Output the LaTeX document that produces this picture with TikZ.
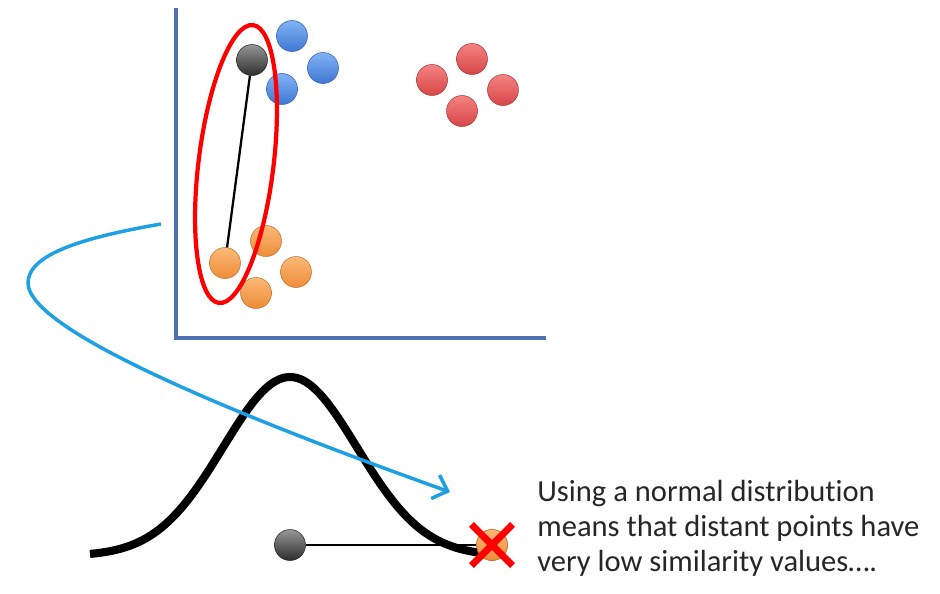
\documentclass[tikz,border=0pt]{standalone}
\usepackage{fontspec}
\setmainfont{Carlito}[Ligatures=NoCommon]
\usepackage{tikz}
\usetikzlibrary{shapes.geometric, shapes.misc, arrows.meta}
\definecolor{axisblue}{RGB}{79,112,178}
\definecolor{curveblue}{RGB}{30,160,226}
\definecolor{ptblueA}{RGB}{130,178,245}
\definecolor{ptblueB}{RGB}{62,120,212}
\definecolor{ptredA}{RGB}{245,130,130}
\definecolor{ptredB}{RGB}{214,70,70}
\definecolor{ptorA}{RGB}{252,185,120}
\definecolor{ptorB}{RGB}{238,140,55}
\definecolor{ptgrA}{RGB}{150,150,150}
\definecolor{ptgrB}{RGB}{45,45,45}
\definecolor{notegray}{RGB}{38,38,38}

\begin{document}
\begin{tikzpicture}[
  x=0.02cm, y=-0.02cm,
  pt/.style={circle, inner sep=0pt, minimum size=0.62cm, draw=#1B!80!black, line width=0.3pt, top color=#1A, bottom color=#1B},
  axis/.style={axisblue, line width=2pt},
  ring/.style={ellipse, draw=red, line width=2.4pt, inner sep=0pt, minimum width=5.6cm, minimum height=1.5cm},
  link/.style={black, line width=1.3pt},
  bell/.style={black, line width=4.6pt},
  flow/.style={curveblue, line width=2pt, -{Straight Barb[length=2.6mm, width=5mm]}},
  xmark/.style={cross out, draw=red, line width=4pt, inner sep=0pt, minimum size=0.68cm},
  note/.style={align=left, inner sep=0pt, text=notegray, font=\fontsize{17.4}{19.8}\selectfont},
]
\useasboundingbox (0,0) rectangle (940,593);

% Axes
\coordinate (top) at (176,8);
\coordinate (org) at (176,338);
\coordinate (rgt) at (546,338);
\draw[axis] (top) -- (org) -- (rgt);

% Selected point and its neighbour far down
\node[pt=ptgr] (blk) at (252,60) {};
\node[pt=ptor] (or1) at (225,263) {};
\draw[link] (blk) -- (or1);

% Blue cluster
\node[pt=ptblue] (bl1) at (292,36) {};
\node[pt=ptblue] (bl2) at (323,68) {};
\node[pt=ptblue] (bl3) at (282,89) {};

% Red cluster
\node[pt=ptred] (rd1) at (472,59) {};
\node[pt=ptred] (rd2) at (432,80) {};
\node[pt=ptred] (rd3) at (503,90) {};
\node[pt=ptred] (rd4) at (462,111) {};

% Orange cluster
\node[pt=ptor] (or2) at (266,241) {};
\node[pt=ptor] (or3) at (296,272) {};
\node[pt=ptor] (or4) at (256,293) {};

% Red ring round the pair
\node[ring, rotate=83] (ring) at (236,164) {};

% Normal curve with the distance below it
\node[pt=ptgr] (gry) at (290,545) {};
\node[pt=ptor] (orx) at (492,545) {};
\draw[link] (gry) -- (orx);
\draw[bell] plot[domain=90:482, samples=90] (\x, {556 - 179*exp(-((\x-290)/67)^2/2)});
\node[pt=ptor] at (orx) {};
\node[xmark] (cross) at (orx) {};

% Blue arrow from the plot down to the curve
\coordinate (src) at (161,224);
\coordinate (lft) at (28,283);
\coordinate (dst) at (450,492);
\draw[flow] (src) .. controls (80,238) and (28,255) .. (lft)
  .. controls (28,322) and (170,392) .. (dst);

% Caption
\node[note, anchor=north west] (txt) at (537,480) {Using a normal distribution\\means that distant points have\\very low similarity values….};
\end{tikzpicture}
\end{document}
